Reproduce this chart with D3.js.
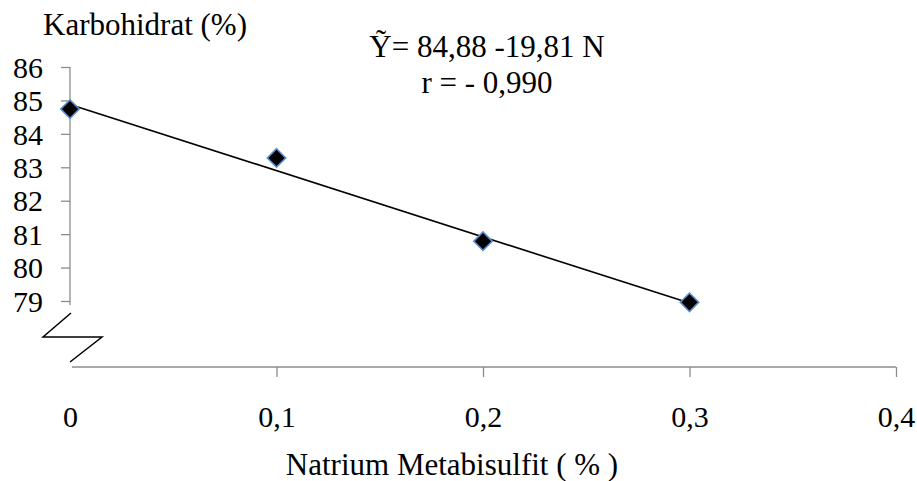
<!DOCTYPE html>
<html><head><meta charset="utf-8">
<script src="https://cdn.jsdelivr.net/npm/d3@7"></script>
<style>
@font-face { font-family: "ChartSerif"; src: local("Liberation Serif"), local("LiberationSerif"), local("LiberationSerif-Regular"), local("Times New Roman"), local("Tinos"); }
html,body{margin:0;padding:0;background:#fff;}
</style></head>
<body><svg id="c" width="917" height="481" font-family="Times New Roman, Liberation Serif, Tinos, ChartSerif"></svg>
<script>
const xValues = [0, 0.1, 0.2, 0.3];
const yValues = [84.74, 83.28, 80.79, 78.96];
const xTicks = [0, 0.1, 0.2, 0.3, 0.4];
const yTicks = [79, 80, 81, 82, 83, 84, 85, 86];
const intercept = 84.88;
const slope = -19.81;
const yTitle = "Karbohidrat (%)";
const xTitle = "Natrium Metabisulfit ( % )";
const eqLine1 = "\u1EF8= 84,88 -19,81 N";
const eqLine2 = "r = - 0,990";

const FONTS = ["Times New Roman", "Liberation Serif", "Tinos", "ChartSerif"];
const FONT = FONTS.map(f => `"${f}"`).join(", ");
const svg = d3.select("#c");
const fmt = d => String(d).replace(".", ",");
const x = d3.scaleLinear().domain([0, 0.4]).range([70, 896]);
const y = d3.scaleLinear().domain([79, 86]).range([301, 67]);
const axisY0 = 367;
const axisColor = "#8c8c8c";
const fsTick = 30, fsTitle = 31;

function serif(sel, size) {
  sel.attr("font-family", FONT).style("font-family", FONT).attr("font-size", size).attr("fill", "#000");
}

// Y axis
const ya = svg.append("g").attr("transform", "translate(70,0)")
  .call(d3.axisLeft(y).tickValues(yTicks).tickSize(9).tickSizeOuter(0).tickFormat(d => d));
ya.attr("font-family", FONT).attr("font-size", null);
ya.select(".domain").attr("d", `M0,${y(86)}V${y(79) + 4}`).attr("stroke", axisColor).attr("stroke-width", 1.3);
ya.selectAll(".tick line").attr("stroke", axisColor).attr("stroke-width", 1.3);
ya.selectAll(".tick text").attr("x", -27).attr("dy", "0.34em").call(serif, fsTick);

// X axis
const xa = svg.append("g").attr("transform", `translate(0,${axisY0})`)
  .call(d3.axisBottom(x).tickValues(xTicks).tickSize(10).tickSizeOuter(0).tickFormat(fmt));
xa.attr("font-family", FONT).attr("font-size", null);
xa.select(".domain").attr("d", `M${x(0) + 2},0H${x(0.4)}`).attr("stroke", axisColor).attr("stroke-width", 1.3);
xa.selectAll(".tick line").attr("stroke", axisColor).attr("stroke-width", 1.3)
  .attr("display", d => d === 0 ? "none" : null);
xa.selectAll(".tick text").attr("y", 60).attr("dy", 0).call(serif, fsTick);

// Axis break symbol
const bx = x(0), by = y(79) + 12;
svg.append("path")
  .attr("d", `M${bx + 1},${by} L${bx - 27},${by + 24} L${bx + 32},${by + 24} L${bx},${by + 49}`)
  .attr("fill", "none").attr("stroke", "#000").attr("stroke-width", 1.5);

// Regression line
svg.append("line")
  .attr("x1", x(0)).attr("y1", y(intercept))
  .attr("x2", x(0.3)).attr("y2", y(intercept + slope * 0.3))
  .attr("stroke", "#000").attr("stroke-width", 1.6);

// Points
svg.selectAll("path.pt").data(xValues.map((d, i) => [d, yValues[i]])).enter()
  .append("path").attr("class", "pt")
  .attr("d", d3.symbol().type(d3.symbolSquare).size(170))
  .attr("transform", d => `translate(${x(d[0])},${y(d[1])}) rotate(45)`)
  .attr("fill", "#000").attr("stroke", "#5b8fd0").attr("stroke-width", 1.6);

// Titles
function title(tx, ty, anchor, s) {
  svg.append("text").attr("x", tx).attr("y", ty).attr("text-anchor", anchor)
    .call(serif, fsTitle).text(s);
}
title(43, 35, "start", yTitle);
title(452, 475, "middle", xTitle);
title(487, 57, "middle", eqLine1);
title(487, 93, "middle", eqLine2);
</script></body></html>
